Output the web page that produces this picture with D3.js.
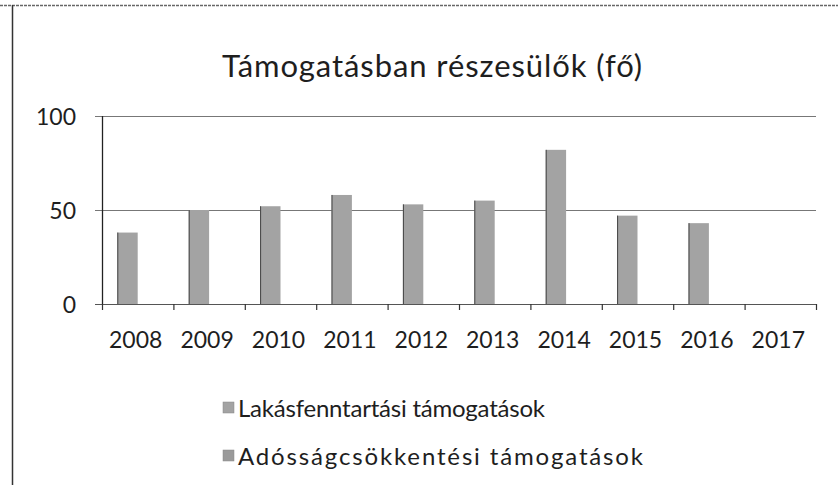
<!DOCTYPE html>
<html>
<head>
<meta charset="utf-8">
<script src="https://cdn.jsdelivr.net/npm/d3@7"></script>
<style>
  html, body { margin: 0; padding: 0; background: #fff; }
  svg { display: block; }
  text { font-family: Lato, "Open Sans", sans-serif; fill: #1e1e1e; }
</style>
</head>
<body>
<svg id="chart" width="838" height="485"></svg>
<script>
const title = "Támogatásban részesülők (fő)";
const years = ["2008","2009","2010","2011","2012","2013","2014","2015","2016","2017"];
const seriesNames = ["Lakásfenntartási támogatások", "Adósságcsökkentési támogatások"];
const lakasfenntartasi = [38, 50, 52, 58, 53, 55, 82, 47, 43, null];
const adossagcsokkentesi = [0, 0, 0, 0, 0, 0, 0, 0, 0, 0];
const yTicks = [0, 50, 100];
const seriesColors = ["#a3a3a3", "#9a9a9a"];

const svg = d3.select("#chart");

// chart border (scanned frame)
svg.append("line").attr("x1", 0).attr("x2", 838).attr("y1", 5.5).attr("y2", 5.5)
  .attr("stroke", "#666").attr("stroke-width", 1.5).attr("stroke-dasharray", "3,1");
svg.append("line").attr("x1", 12.5).attr("x2", 12.5).attr("y1", 5).attr("y2", 485)
  .attr("stroke", "#333").attr("stroke-width", 1.5);

const plot = { left: 102, right: 816, top: 116, bottom: 304 };

const x0 = d3.scaleBand().domain(years).range([plot.left, plot.right]).paddingInner(0).paddingOuter(0);
const x1 = d3.scaleBand().domain(seriesNames)
  .range([x0.bandwidth() * 0.75 / 3.5, x0.bandwidth() * (1 - 0.75 / 3.5)]).padding(0);
const y = d3.scaleLinear().domain([0, 100]).range([plot.bottom, plot.top]);

// title
svg.append("text").attr("x", 432).attr("y", 77).attr("text-anchor", "middle")
  .attr("font-size", 31).attr("textLength", 420).attr("lengthAdjust", "spacing").text(title);

// gridlines
svg.append("g").selectAll("line").data(yTicks).join("line")
  .attr("x1", plot.left - 7).attr("x2", plot.right)
  .attr("y1", d => Math.round(y(d)) + 0.5).attr("y2", d => Math.round(y(d)) + 0.5)
  .attr("stroke", d => d === 0 ? "#555" : "#777").attr("stroke-width", 1);

// y axis labels
const yAxis = d3.axisLeft(y).tickValues(yTicks).tickSize(0).tickPadding(0);
const gy = svg.append("g").attr("transform", `translate(${plot.left - 26},0)`).call(yAxis);
gy.select(".domain").remove();
gy.selectAll("text").attr("font-size", 23).attr("font-family", "Lato, sans-serif").attr("fill", "#1e1e1e").attr("dy", "0.36em");

// y axis line
svg.append("line").attr("x1", plot.left + 0.5).attr("x2", plot.left + 0.5)
  .attr("y1", y(100)).attr("y2", y(0)).attr("stroke", "#222").attr("stroke-width", 1.3);

// x ticks at category boundaries
const boundaries = years.map(d => x0(d)).concat([plot.right]);
svg.append("g").selectAll("line").data(boundaries).join("line")
  .attr("x1", d => d + 0.5).attr("x2", d => d + 0.5)
  .attr("y1", plot.bottom).attr("y2", plot.bottom + 6)
  .attr("stroke", "#333").attr("stroke-width", 1.2);

// x labels
svg.append("g").selectAll("text").data(years).join("text")
  .attr("x", d => x0(d) + x0.bandwidth() / 2 - 2)
  .attr("y", 348).attr("text-anchor", "middle").attr("font-size", 23).text(d => d);

// bars
const seriesData = [lakasfenntartasi, adossagcsokkentesi];
seriesData.forEach((vals, si) => {
  const g = svg.append("g");
  const data = years.map((yr, i) => ({ yr, v: vals[i] })).filter(d => d.v != null && d.v > 0);
  g.selectAll("rect").data(data).join("rect")
    .attr("x", d => x0(d.yr) + x1(seriesNames[si]))
    .attr("width", x1.bandwidth())
    .attr("y", d => y(d.v))
    .attr("height", d => y(0) - y(d.v))
    .attr("fill", seriesColors[si]);
  g.selectAll("line").data(data).join("line")
    .attr("x1", d => x0(d.yr) + x1(seriesNames[si]) + 0.5)
    .attr("x2", d => x0(d.yr) + x1(seriesNames[si]) + 0.5)
    .attr("y1", d => y(d.v)).attr("y2", y(0))
    .attr("stroke", "#444").attr("stroke-width", 1);
});

// legend
const legendWidths = [307, 405];
const legend = svg.append("g");
seriesNames.forEach((name, i) => {
  const ly = 408 + i * 48;
  legend.append("rect").attr("x", 223).attr("y", ly - 6).attr("width", 11).attr("height", 11)
    .attr("fill", seriesColors[i]).attr("stroke", "#888").attr("stroke-width", 0.5);
  legend.append("text").attr("x", 238).attr("y", ly).attr("dy", "0.36em")
    .attr("font-size", 24).attr("textLength", legendWidths[i]).attr("lengthAdjust", "spacing").text(name);
});
</script>
</body>
</html>
